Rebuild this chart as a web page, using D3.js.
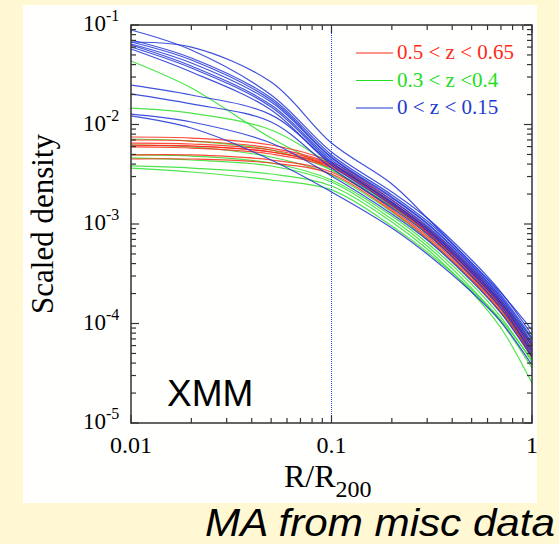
<!DOCTYPE html>
<html>
<head>
<meta charset="utf-8">
<script src="https://cdn.jsdelivr.net/npm/d3@7"></script>
<style>
  body { margin: 0; background: #fff8d3; }
  svg { display: block; }
</style>
</head>
<body>
<svg width="559" height="544"></svg>
<script>
const radius = [0.01, 0.02, 0.05, 0.1, 0.2, 0.3, 0.5, 0.7, 1.0];

// 0 < z < 0.15 profiles
const lowZ = [
  [0.0675, 0.0600, 0.0267, 0.00651, 0.00252, 0.00115, 0.000406, 0.000203, 0.0000860],
  [0.0891, 0.0561, 0.0198, 0.00529, 0.00210, 0.00115, 0.000435, 0.000207, 0.0000766],
  [0.0707, 0.0466, 0.0185, 0.00494, 0.00196, 0.00107, 0.000406, 0.000193, 0.0000715],
  [0.0675, 0.0445, 0.0176, 0.00471, 0.00187, 0.00102, 0.000387, 0.000185, 0.0000682],
  [0.0644, 0.0415, 0.0168, 0.00461, 0.00183, 0.00100, 0.000378, 0.000180, 0.0000637],
  [0.0630, 0.0387, 0.0157, 0.00440, 0.00174, 0.000955, 0.000361, 0.000172, 0.0000608],
  [0.0601, 0.0370, 0.0150, 0.00420, 0.00166, 0.000912, 0.000345, 0.000164, 0.0000541],
  [0.0574, 0.0337, 0.0140, 0.00392, 0.00155, 0.000850, 0.000322, 0.000153, 0.0000482],
  [0.0249, 0.0198, 0.0125, 0.00410, 0.00163, 0.000891, 0.000337, 0.000161, 0.0000594],
  [0.0203, 0.0161, 0.0106, 0.00365, 0.00145, 0.000793, 0.000300, 0.000143, 0.0000517],
  [0.0127, 0.0106, 0.00651, 0.00304, 0.00126, 0.000690, 0.000267, 0.000127, 0.0000461],
  [0.0122, 0.00922, 0.00440, 0.00210, 0.000912, 0.000499, 0.000207, 0.000104, 0.0000383]
];

// 0.3 < z < 0.4 profiles
const midZ = [
  [0.0435, 0.0233, 0.00731, 0.00349, 0.00148, 0.000793, 0.000300, 0.000140, 0.0000461],
  [0.0146, 0.0130, 0.00881, 0.00392, 0.00159, 0.000850, 0.000322, 0.000150, 0.0000608],
  [0.00715, 0.00682, 0.00554, 0.00349, 0.00148, 0.000812, 0.000322, 0.000161, 0.0000715],
  [0.00622, 0.00594, 0.00471, 0.00311, 0.00132, 0.000707, 0.000274, 0.000130, 0.0000541],
  [0.00494, 0.00482, 0.00410, 0.00277, 0.00120, 0.000644, 0.000249, 0.000116, 0.0000410],
  [0.00461, 0.00440, 0.00383, 0.00264, 0.00112, 0.000601, 0.000227, 0.000104, 0.0000357],
  [0.00383, 0.00365, 0.00318, 0.00241, 0.00105, 0.000561, 0.000207, 0.0000901, 0.0000252],
  [0.00365, 0.00333, 0.00277, 0.00220, 0.000955, 0.000523, 0.000217, 0.000109, 0.0000430]
];

// 0.5 < z < 0.65 profiles
const highZ = [
  [0.00749, 0.00731, 0.00622, 0.00420, 0.00174, 0.000933, 0.000361, 0.000172, 0.0000637],
  [0.00698, 0.00682, 0.00580, 0.00401, 0.00166, 0.000891, 0.000345, 0.000164, 0.0000580],
  [0.00651, 0.00637, 0.00554, 0.00392, 0.00163, 0.000870, 0.000329, 0.000157, 0.0000554],
  [0.00608, 0.00608, 0.00529, 0.00374, 0.00155, 0.000831, 0.000314, 0.000150, 0.0000517],
  [0.00594, 0.00580, 0.00505, 0.00365, 0.00152, 0.000812, 0.000300, 0.000143, 0.0000482],
  [0.00494, 0.00494, 0.00440, 0.00333, 0.00141, 0.000758, 0.000287, 0.000137, 0.0000472],
  [0.00450, 0.00450, 0.00410, 0.00318, 0.00135, 0.000723, 0.000274, 0.000130, 0.0000450],
  [0.00622, 0.00608, 0.00529, 0.00383, 0.00159, 0.000850, 0.000322, 0.000153, 0.0000541]
];

const legendLabels = ["0.5 < z < 0.65", "0.3 < z <0.4", "0 < z < 0.15"];
const xTickValues = [0.01, 0.1, 1];
const yTickExponents = [-1, -2, -3, -4, -5];

var svg = d3.select("svg");

// white panel on the yellow slide
svg.append("rect")
    .attr("x", 23).attr("y", 5)
    .attr("width", 514).attr("height", 498)
    .attr("fill", "#fffffd");

var x = d3.scaleLog().domain([0.01, 1]).range([131, 532]);
var y = d3.scaleLog().domain([1e-5, 1e-1]).range([423, 25]);

var line = d3.line()
    .x(function (d) { return x(d[0]); })
    .y(function (d) { return y(d[1]); })
    .curve(d3.curveCatmullRom.alpha(0.5));

var groups = [
    { data: midZ, color: "#2ee02e" },
    { data: highZ, color: "#ff2a1a" },
    { data: lowZ, color: "#1e32d6" }
];

var plot = svg.append("g");

groups.forEach(function (g) {
    plot.selectAll(null)
        .data(g.data)
        .enter()
        .append("path")
        .attr("d", function (vals) { return line(vals.map(function (v, i) { return [radius[i], v]; })); })
        .attr("fill", "none")
        .attr("stroke", g.color)
        .attr("stroke-opacity", 0.85)
        .attr("stroke-width", 1.2);
});

// dotted marker at R = 0.1 R200
svg.append("line")
    .attr("x1", x(0.1)).attr("x2", x(0.1))
    .attr("y1", y(1e-1)).attr("y2", y(1e-5))
    .attr("stroke", "#2a48ff")
    .attr("stroke-width", 1)
    .attr("stroke-dasharray", "1,1");

// frame
svg.append("rect")
    .attr("x", x(0.01)).attr("y", y(1e-1))
    .attr("width", x(1) - x(0.01)).attr("height", y(1e-5) - y(1e-1))
    .attr("fill", "none")
    .attr("stroke", "#333")
    .attr("stroke-width", 1.5);

// inward ticks on all four sides
function isMajor(v) {
    var l = Math.log10(v);
    return Math.abs(l - Math.round(l)) < 1e-6;
}
var xt = x.ticks();
var yt = y.ticks();
var ticks = svg.append("g").attr("stroke", "#333").attr("stroke-width", 1.2);
xt.forEach(function (v) {
    var len = isMajor(v) ? 8 : 5;
    ticks.append("line").attr("x1", x(v)).attr("x2", x(v)).attr("y1", 423).attr("y2", 423 - len);
    ticks.append("line").attr("x1", x(v)).attr("x2", x(v)).attr("y1", 25).attr("y2", 25 + len);
});
yt.forEach(function (v) {
    var len = isMajor(v) ? 8 : 5;
    ticks.append("line").attr("y1", y(v)).attr("y2", y(v)).attr("x1", 131).attr("x2", 131 + len);
    ticks.append("line").attr("y1", y(v)).attr("y2", y(v)).attr("x1", 532).attr("x2", 532 - len);
});

var serif = "'Liberation Serif', 'DejaVu Serif', serif";

// x tick labels
svg.selectAll(null)
    .data(xTickValues)
    .enter()
    .append("text")
    .attr("x", function (d) { return x(d); })
    .attr("y", 453)
    .attr("text-anchor", "middle")
    .style("font-family", serif)
    .style("font-size", "24px")
    .text(function (d) { return d; });

// y tick labels 10^n
var yl = svg.selectAll(null)
    .data(yTickExponents)
    .enter()
    .append("text")
    .attr("x", 83)
    .attr("y", function (d) { return y(Math.pow(10, d)) + 6; })
    .style("font-family", serif)
    .style("font-size", "23px");
yl.append("tspan").text("10");
yl.append("tspan").attr("dy", -10).style("font-size", "16px").text(function (d) { return "-" + Math.abs(d); });

// axis titles
var xl = svg.append("text")
    .attr("x", 284).attr("y", 487)
    .style("font-family", serif)
    .style("font-size", "32px");
xl.append("tspan").text("R/R");
xl.append("tspan").attr("dy", 10).style("font-size", "24px").text("200");

svg.append("text")
    .attr("transform", "translate(53,224) rotate(-90)")
    .attr("text-anchor", "middle")
    .style("font-family", serif)
    .style("font-size", "31px")
    .text("Scaled density");

svg.append("text")
    .attr("x", 167).attr("y", 406)
    .style("font-family", "'Liberation Sans', Arial, sans-serif")
    .style("font-size", "37px")
    .text("XMM");

// legend
var legendColors = ["#ff2a1a", "#22dd22", "#1e3ad0"];
var leg = svg.selectAll(null)
    .data(legendLabels)
    .enter()
    .append("g")
    .attr("transform", function (d, i) { return "translate(0," + (53 + i * 27.5) + ")"; });
leg.append("line")
    .attr("x1", 356).attr("x2", 393)
    .attr("stroke", function (d, i) { return legendColors[i]; })
    .attr("stroke-width", 1.1);
leg.append("text")
    .attr("x", 397).attr("y", 6)
    .style("font-family", serif)
    .style("font-size", "21px")
    .attr("fill", function (d, i) { return legendColors[i]; })
    .text(function (d) { return d; });

// slide caption
svg.append("text")
    .attr("x", 205).attr("y", 536)
    .attr("textLength", 350)
    .attr("lengthAdjust", "spacingAndGlyphs")
    .style("font-family", "'Liberation Sans', Arial, sans-serif")
    .style("font-style", "italic")
    .style("font-size", "38px")
    .text("MA from misc data");
</script>
</body>
</html>
